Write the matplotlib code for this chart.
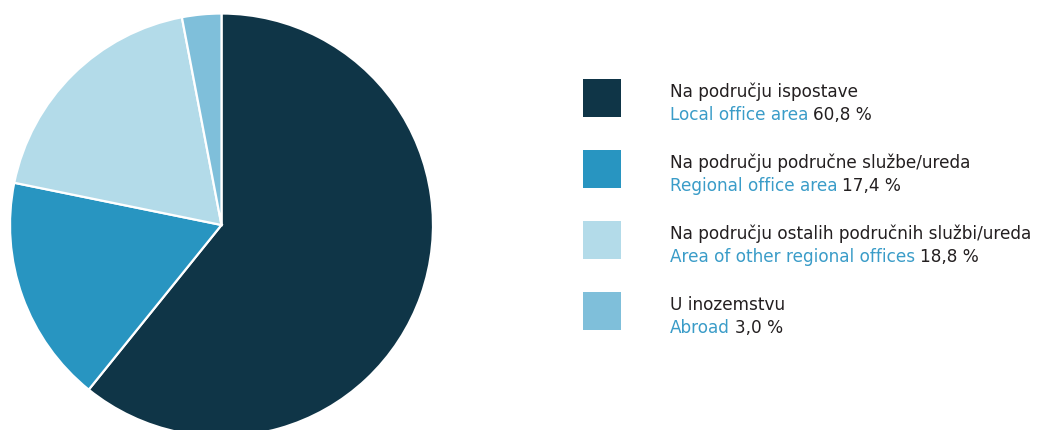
import matplotlib.pyplot as plt
from matplotlib.patches import Rectangle

labels_hr = ['Na području ispostave', 'Na području područne službe/ureda',
             'Na području ostalih područnih službi/ureda', 'U inozemstvu']
labels_en = ['Local office area', 'Regional office area',
             'Area of other regional offices', 'Abroad']
shares = [60.8, 17.4, 18.8, 3.0]
colors = ['#0f3547', '#2895c1', '#b3dbe9', '#7fbfda']

W, H = 1041, 430
fig = plt.figure(figsize=(W / 100, H / 100), dpi=100)

# pie: centre (221.5, 225) px from top-left, radius 211.5 px
cx, cy, r = 221.5, 225, 211.5
ax = fig.add_axes([(cx - r) / W, (H - cy - r) / H, 2 * r / W, 2 * r / H])
ax.pie(shares, colors=colors, startangle=90, counterclock=False, radius=1,
       wedgeprops=dict(edgecolor='white', linewidth=1.6))
ax.set_xlim(-1, 1)
ax.set_ylim(-1, 1)
ax.set_aspect('equal')
ax.axis('off')

fs = 12.2
dark = '#231f20'
blue = '#3a9cc8'
fig.canvas.draw()
renderer = fig.canvas.get_renderer()
for i in range(len(shares)):
    top = 79 + i * 71
    fig.add_artist(Rectangle((583 / W, 1 - (top + 38) / H), 38 / W, 38 / H,
                             facecolor=colors[i], edgecolor='none',
                             transform=fig.transFigure))
    fig.text(670 / W, 1 - (top + 18) / H, labels_hr[i], fontsize=fs,
             color=dark, va='baseline')
    t = fig.text(670 / W, 1 - (top + 41) / H, labels_en[i], fontsize=fs,
                 color=blue, va='baseline')
    bb = t.get_window_extent(renderer)
    pct = ('%.1f %%' % shares[i]).replace('.', ',')
    fig.text((bb.x1 + 5) / W, 1 - (top + 41) / H, pct, fontsize=fs,
             color=dark, va='baseline')

fig.savefig('out.png', dpi=100)
